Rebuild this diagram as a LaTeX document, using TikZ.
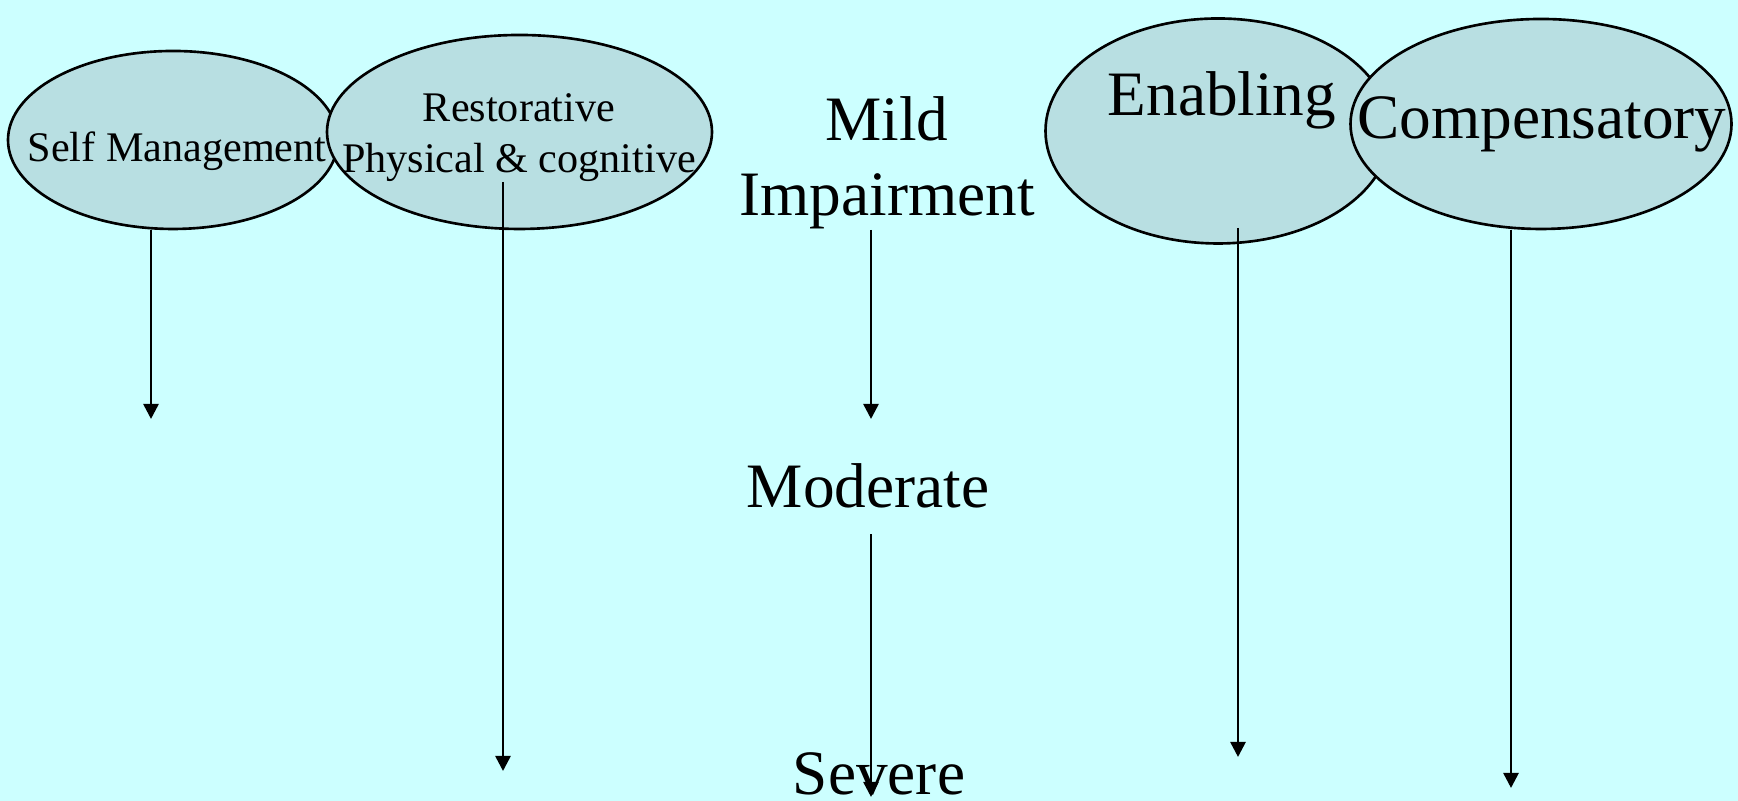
\documentclass[tikz,border=0pt]{standalone}
\usepackage{fontspec}
\setmainfont{Liberation Serif}
\usetikzlibrary{shapes.geometric,arrows.meta}
\definecolor{slidebg}{RGB}{204,255,255}
\definecolor{ovalfill}{RGB}{184,223,226}
\begin{document}
\begin{tikzpicture}[
  oval/.style={draw, ellipse, fill=ovalfill, line width=0.75pt, inner sep=0pt},
  smalltext/.style={inner sep=0pt, align=center, font=\fontsize{12}{14.5}\selectfont},
  bigtext/.style={inner sep=0pt, align=center, font=\fontsize{18}{21.3}\selectfont},
  arr/.style={line width=0.75pt, -{Triangle[width=0.15cm, length=0.15cm]}}
]

\fill [slidebg] (0,0) rectangle (17.38,8.01);
\useasboundingbox (0,0) rectangle (17.38,8.01);

\node [oval, minimum width=3.30cm, minimum height=1.78cm] (selfman) at (1.73,6.61) {};
\node [oval, minimum width=3.85cm, minimum height=1.94cm] (restor) at (5.195,6.69) {};
\node [oval, minimum width=3.45cm, minimum height=2.25cm] (enabling) at (12.18,6.70) {};
\node [oval, minimum width=3.81cm, minimum height=2.10cm] (compens) at (15.41,6.77) {};

\node [smalltext, anchor=base] (selfmantext) at (1.77,6.39) {Self Management};
\node [smalltext, anchor=south] (restortext) at (5.19,6.19) {Restorative\\Physical \& cognitive};
\node [bigtext, anchor=base] (enablingtext) at (12.22,6.85) {Enabling};
\node [bigtext, anchor=base] (compenstext) at (15.42,6.62) {Compensatory};

\node [bigtext, anchor=south] (mildtext) at (8.87,5.71) {Mild\\Impairment};
\node [bigtext, anchor=base] (moderatetext) at (8.68,2.93) {Moderate};
\node [bigtext, anchor=base] (severetext) at (8.79,0.06) {Severe};

\coordinate (selfmanend) at (1.51,3.82);
\coordinate (restorend) at (5.03,0.30);
\coordinate (mildend) at (8.71,3.82);
\coordinate (severeend) at (8.71,0.04);
\coordinate (enablingend) at (12.38,0.44);
\coordinate (compensend) at (15.11,0.13);

\draw [arr] (selfman.south -| selfmanend) -- (selfmanend);
\draw [arr] (restortext.south -| restorend) -- (restorend);
\draw [arr] (mildtext.south -| mildend) -- (mildend);
\draw [arr] ([yshift=-0.25cm]moderatetext.south -| severeend) -- (severeend);
\draw [arr] ([yshift=0.17cm]enabling.south -| enablingend) -- (enablingend);
\draw [arr] (compens.south -| compensend) -- (compensend);

\end{tikzpicture}
\end{document}
